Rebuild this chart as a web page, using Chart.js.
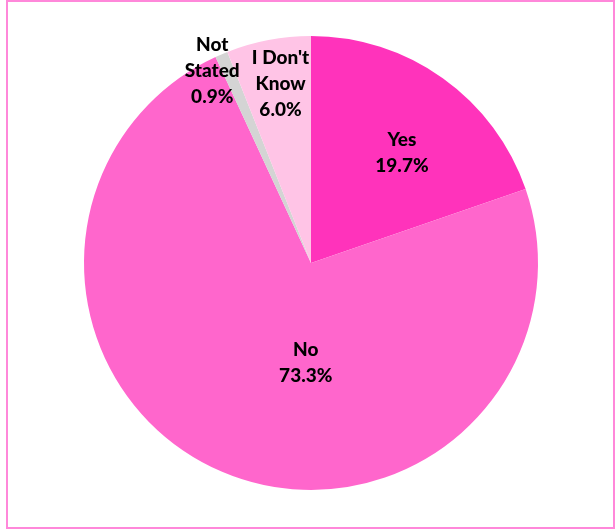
<!DOCTYPE html>
<html>
<head>
<meta charset="utf-8">
<script src="https://cdn.jsdelivr.net/npm/chart.js@4/dist/chart.umd.min.js"></script>
<style>
  html, body { margin: 0; padding: 0; background: #fff; }
  #wrap { position: relative; width: 615px; height: 529px; }
  #frame { position: absolute; left: 6px; top: 0; width: 609px; height: 529px;
           box-sizing: border-box; border: 2px solid #FF88DA; pointer-events: none; }
  canvas { position: absolute; left: 0; top: 0; }
</style>
</head>
<body>
<div id="wrap">
  <canvas id="c" width="615" height="529"></canvas>
  <div id="frame"></div>
</div>
<script>
const categories = ['Yes', 'No', 'Not Stated', "I Don't Know"];
const labelLines = [['Yes'], ['No'], ['Not', 'Stated'], ['I Don\'t', 'Know']];
const shares = [19.7, 73.3, 0.9, 6.0];
const sliceColors = ['#FF33BB', '#FF66CC', '#D4D4D4', '#FFC4E6'];
// label placement: radius fraction and angle shift (radians) from each slice's mid-angle
const labelRadius = [0.63, 0.44, 0.95, 0.80];
const labelAngleShift = [0.07, -0.35, -0.07, 0.02];

const sliceLabels = {
  id: 'sliceLabels',
  afterDatasetsDraw(chart) {
    const ctx = chart.ctx;
    const meta = chart.getDatasetMeta(0);
    ctx.save();
    ctx.font = '900 19px Lato, "Open Sans", sans-serif';
    ctx.fillStyle = '#000';
    ctx.textAlign = 'center';
    ctx.textBaseline = 'middle';
    meta.data.forEach((arc, i) => {
      const p = arc.getProps(['x', 'y', 'startAngle', 'endAngle', 'outerRadius'], true);
      const a = (p.startAngle + p.endAngle) / 2 + labelAngleShift[i];
      const r = p.outerRadius * labelRadius[i];
      const cx = p.x + Math.cos(a) * r;
      const cy = p.y + Math.sin(a) * r;
      const lines = labelLines[i].concat([shares[i].toFixed(1) + '%']);
      const lh = 26;
      const top = cy - (lines.length - 1) * lh / 2;
      lines.forEach((t, k) => ctx.fillText(t, cx, top + k * lh));
    });
    ctx.restore();
  }
};

new Chart(document.getElementById('c'), {
  type: 'pie',
  data: {
    labels: categories,
    datasets: [{
      data: shares,
      backgroundColor: sliceColors,
      borderWidth: 0
    }]
  },
  options: {
    responsive: false,
    animation: false,
    layout: { padding: { left: 84, right: 77, top: 36, bottom: 39 } },
    plugins: {
      legend: { display: false },
      tooltip: { enabled: false }
    }
  },
  plugins: [sliceLabels]
});
</script>
</body>
</html>
